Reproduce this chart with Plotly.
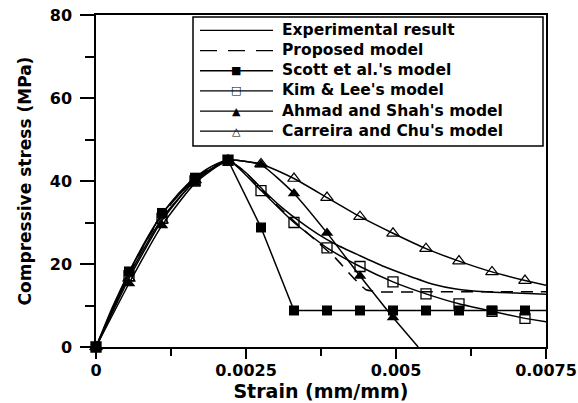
import plotly.graph_objects as go

# ---------------- data ----------------
strain_m = [0, 0.00055, 0.0011, 0.00165, 0.0022, 0.00275, 0.0033, 0.00385,
            0.0044, 0.00495, 0.0055, 0.00605, 0.0066, 0.00715]

scott = [0, 18.2, 32.3, 40.8, 45.0, 28.8, 8.8, 8.8, 8.8, 8.8, 8.8, 8.8, 8.8, 8.8]
kim = [0, 17.2, 31.0, 40.0, 45.0, 37.7, 30.0, 23.9, 19.4, 15.7, 12.8, 10.4, 8.6, 6.9]
ahmad = [0, 15.3, 29.3, 39.5, 45.0, 43.9, 37.0, 27.5, 17.1, 7.1]
carreira = [0, 16.5, 30.5, 40.2, 45.0, 44.1, 40.6, 36.0, 31.4, 27.4, 23.7, 20.7, 18.1, 16.0]

# line continuations past the last marker
scott_ext_x, scott_ext_y = [0.00715, 0.0075], [8.8, 8.8]
kim_ext_x, kim_ext_y = [0.00715, 0.0075], [6.9, 6.1]
ahmad_ext_x, ahmad_ext_y = [0.00495, 0.00537], [7.1, 0.0]
carreira_ext_x, carreira_ext_y = [0.00715, 0.0075], [16.0, 14.9]

strain_exp = [0, 0.000275, 0.00055, 0.000825, 0.0011, 0.001375, 0.00165, 0.001925,
              0.0022, 0.0025, 0.0028, 0.0031, 0.0034, 0.0037, 0.004, 0.0044, 0.0048,
              0.0052, 0.0056, 0.006, 0.0065, 0.007, 0.0075]
stress_exp = [0, 9.6, 18.0, 25.6, 32.0, 37.0, 40.8, 43.5,
              45.0, 42.0, 37.6, 33.6, 30.2, 27.2, 24.7, 22.0, 19.4,
              17.2, 15.2, 14.0, 13.3, 13.0, 12.7]

strain_prop = [0, 0.000275, 0.00055, 0.000825, 0.0011, 0.001375, 0.00165, 0.001925,
               0.0022, 0.0025, 0.0028, 0.0031, 0.0034, 0.0037, 0.004, 0.0043, 0.0045,
               0.0047, 0.0055, 0.0065, 0.0075]
stress_prop = [0, 9.3, 17.6, 25.2, 31.6, 36.7, 40.6, 43.4,
               45.0, 42.0, 37.3, 33.0, 29.0, 25.2, 21.3, 16.5, 13.8,
               13.3, 13.3, 13.3, 13.3]

names = ["Experimental result", "Proposed model", "Scott et al.'s model",
         "Kim & Lee's model", "Ahmad and Shah's model", "Carreira and Chu's model"]
legend_glyphs = ["", "", "\u25A0", "\u25A1", "\u25B2", "\u25B3"]

x_ticks = [0, 0.0025, 0.005, 0.0075]
x_ticktext = ["0", "0.0025", "0.005", "0.0075"]
y_ticks = [0, 20, 40, 60, 80]

# ---------------- figure ----------------
W, H = 578, 403
ML, MR, MT, MB = 96, 32, 15, 56
PW, PH = W - ML - MR, H - MT - MB


def px(xp):
    return (xp - ML) / PW


def py(yp):
    return (H - MB - yp) / PH


BLK = "black"
LW = 1.5
fig = go.Figure()

fig.add_trace(go.Scatter(x=strain_exp, y=stress_exp, mode="lines", name=names[0],
                         line=dict(color=BLK, width=LW, shape="spline", smoothing=0.6)))
fig.add_trace(go.Scatter(x=strain_prop, y=stress_prop, mode="lines", name=names[1],
                         line=dict(color=BLK, width=LW, dash="12px,8px", shape="spline", smoothing=0.4)))

fig.add_trace(go.Scatter(x=strain_m, y=scott, mode="lines+markers", name=names[2], cliponaxis=False,
                         line=dict(color=BLK, width=LW),
                         marker=dict(symbol="square", size=10, color=BLK)))
fig.add_trace(go.Scatter(x=scott_ext_x, y=scott_ext_y, mode="lines",
                         line=dict(color=BLK, width=LW)))

fig.add_trace(go.Scatter(x=strain_m, y=kim, mode="lines+markers", name=names[3], cliponaxis=False,
                         line=dict(color=BLK, width=LW, shape="spline", smoothing=0.5),
                         marker=dict(symbol="square-open", size=10, color=BLK, line=dict(width=1.3))))
fig.add_trace(go.Scatter(x=kim_ext_x, y=kim_ext_y, mode="lines",
                         line=dict(color=BLK, width=LW)))

fig.add_trace(go.Scatter(x=strain_m[:len(ahmad)], y=ahmad, mode="lines+markers", name=names[4],
                         cliponaxis=False,
                         line=dict(color=BLK, width=LW, shape="spline", smoothing=0.5),
                         marker=dict(symbol="triangle-up", size=11, color=BLK)))
fig.add_trace(go.Scatter(x=ahmad_ext_x, y=ahmad_ext_y, mode="lines",
                         line=dict(color=BLK, width=LW)))

fig.add_trace(go.Scatter(x=strain_m, y=carreira, mode="lines+markers", name=names[5], cliponaxis=False,
                         line=dict(color=BLK, width=LW, shape="spline", smoothing=0.5),
                         marker=dict(symbol="triangle-up-open", size=11, color=BLK, line=dict(width=1.2))))
fig.add_trace(go.Scatter(x=carreira_ext_x, y=carreira_ext_y, mode="lines",
                         line=dict(color=BLK, width=LW)))

# ---------------- legend box drawn in layout (as in the original figure) ----------------
LEG_FS = 15.5
ROW = LEG_FS * 1.3
CENTER = 80.8
row_y = [CENTER + (i - 2.5) * ROW for i in range(len(names))]

shapes = [dict(type="rect", xref="paper", yref="paper", layer="above",
               x0=px(193), x1=px(543), y0=py(146), y1=py(17),
               line=dict(color=BLK, width=1.5), fillcolor="white")]
annotations = [dict(xref="paper", yref="paper", x=px(280), y=py(CENTER),
                    xanchor="left", yanchor="middle", align="left", showarrow=False,
                    text="<br>".join(names),
                    font=dict(family="DejaVu Sans", size=LEG_FS, color=BLK, weight="bold"))]
for i, name in enumerate(names):
    shapes.append(dict(type="line", xref="paper", yref="paper", layer="above",
                       x0=px(200), x1=px(273), y0=py(row_y[i]), y1=py(row_y[i]),
                       line=dict(color=BLK, width=1.3, dash="17px,11px" if i == 1 else "solid")))
    if legend_glyphs[i]:
        annotations.append(dict(xref="paper", yref="paper", x=px(236), y=py(row_y[i]),
                                xanchor="center", yanchor="middle", showarrow=False,
                                text=legend_glyphs[i], bgcolor="rgba(0,0,0,0)",
                                font=dict(family="DejaVu Sans", size=11, color=BLK)))

tickfont = dict(family="DejaVu Sans", size=16, color=BLK, weight="bold")

fig.update_layout(
    width=W, height=H,
    margin=dict(l=ML, r=MR, t=MT, b=MB, autoexpand=False),
    paper_bgcolor="white", plot_bgcolor="white",
    showlegend=False,
    shapes=shapes, annotations=annotations,
    xaxis=dict(range=[0, 0.0075], tickvals=x_ticks, ticktext=x_ticktext, automargin=False,
               ticks="outside", ticklen=10, tickwidth=1.5, tickcolor=BLK,
               ticklabelstandoff=-2,
               minor=dict(dtick=0.00125, tick0=0, ticks="outside", ticklen=7, tickwidth=1.5, tickcolor=BLK),
               showline=True, linecolor=BLK, linewidth=1.5, mirror=True,
               showgrid=False, zeroline=False, tickfont=tickfont,
               title=dict(text="Strain (mm/mm)", standoff=6,
                          font=dict(family="DejaVu Sans", size=19, color=BLK, weight="bold"))),
    yaxis=dict(range=[0, 80], tickvals=y_ticks, automargin=False,
               ticks="outside", ticklen=14, tickwidth=1.5, tickcolor=BLK,
               ticklabelstandoff=5,
               minor=dict(dtick=10, tick0=0, ticks="outside", ticklen=9, tickwidth=1.5, tickcolor=BLK),
               showline=True, linecolor=BLK, linewidth=1.5, mirror=True,
               showgrid=False, zeroline=False, tickfont=tickfont,
               title=dict(text="Compressive stress (MPa)", standoff=14,
                          font=dict(family="DejaVu Sans", size=17, color=BLK, weight="bold"))),
)

fig.write_html("out.html")
